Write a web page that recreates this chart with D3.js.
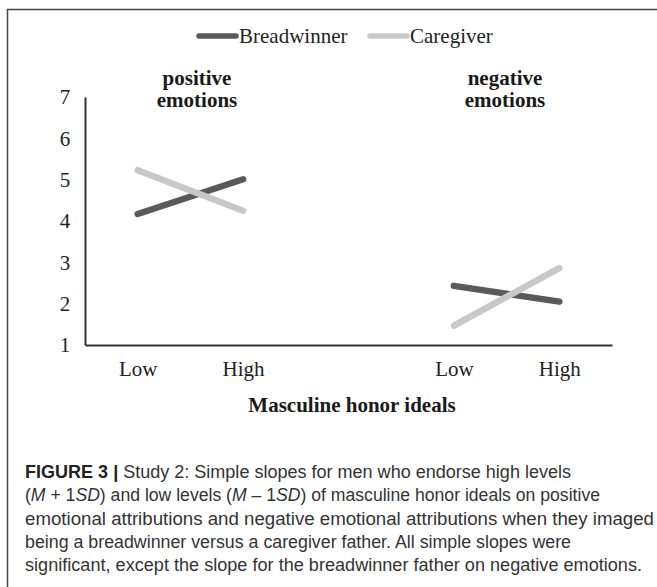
<!DOCTYPE html>
<html><head><meta charset="utf-8">
<script src="https://cdn.jsdelivr.net/npm/d3@7"></script>
<style>body{margin:0;background:#fff}svg{display:block}</style>
</head><body>
<script>
const categories = ["Low", "High", "", "Low ", "High "];
const tickLabels = ["Low", "High", "", "Low", "High"];
const yTicks = [1, 2, 3, 4, 5, 6, 7];
const seriesNames = ["Breadwinner", "Caregiver"];
const breadwinnerPositive = [4.17, 5.01];
const caregiverPositive = [5.23, 4.25];
const breadwinnerNegative = [2.43, 2.05];
const caregiverNegative = [1.47, 2.86];
const panelTitles = [["positive", "emotions"], ["negative", "emotions"]];
const xTitle = "Masculine honor ideals";
const captionLines = [
  [["FIGURE 3 |", "b"], [" Study 2: Simple slopes for men who endorse high levels", ""]],
  [["(", ""], ["M", "i"], [" + 1", ""], ["SD", "i"], [") and low levels (", ""], ["M", "i"], [" \u2013 1", ""], ["SD", "i"], [") of masculine honor ideals on positive", ""]],
  [["emotional attributions and negative emotional attributions when they imaged", ""]],
  [["being a breadwinner versus a caregiver father. All simple slopes were", ""]],
  [["significant, except the slope for the breadwinner father on negative emotions.", ""]]
];

const W = 657, H = 587;
const colors = {Breadwinner: "#5a5a5a", Caregiver: "#c8c8c8"};
const svg = d3.select("body").append("svg").attr("width", W).attr("height", H);

// frame
svg.append("path").attr("d", "M7.5,587 V9.5 H657").attr("fill", "none").attr("stroke", "#444").attr("stroke-width", 1.5);

const x = d3.scalePoint().domain(categories).range([85, 612]).padding(0.5);
const y = d3.scaleLinear().domain([1, 7]).range([345, 97]);
const serif = "'Liberation Serif','Times New Roman',serif";

// axes
const yAxis = svg.append("g").attr("transform", "translate(85,0)")
  .call(d3.axisLeft(y).tickValues(yTicks).tickSize(0).tickPadding(16).tickFormat(d3.format("d")));
yAxis.select(".domain").attr("stroke", "#333").attr("stroke-width", 2);
yAxis.selectAll("text").attr("font-family", serif).attr("font-size", 21).attr("fill", "#222").attr("text-anchor", "middle").attr("dx", "-4");

const xAxis = svg.append("g").attr("transform", "translate(0,345)")
  .call(d3.axisBottom(x).tickSize(0).tickPadding(16).tickFormat((d, i) => tickLabels[i]));
xAxis.select(".domain").attr("stroke", "#333").attr("stroke-width", 2);
xAxis.selectAll("text").attr("font-family", serif).attr("font-size", 21).attr("fill", "#222");

// lines
const line = d3.line().x(d => x(d[0])).y(d => y(d[1]));
const series = [
  {name: "Breadwinner", pts: [[categories[0], breadwinnerPositive[0]], [categories[1], breadwinnerPositive[1]]]},
  {name: "Caregiver", pts: [[categories[0], caregiverPositive[0]], [categories[1], caregiverPositive[1]]]},
  {name: "Breadwinner", pts: [[categories[3], breadwinnerNegative[0]], [categories[4], breadwinnerNegative[1]]]},
  {name: "Caregiver", pts: [[categories[3], caregiverNegative[0]], [categories[4], caregiverNegative[1]]]}
];
svg.append("g").selectAll("path").data(series).join("path")
  .attr("d", d => line(d.pts)).attr("fill", "none")
  .attr("stroke", d => colors[d.name]).attr("stroke-width", 6.5).attr("stroke-linecap", "round");

// panel titles
const titleX = [197, 505];
panelTitles.forEach((t, i) => {
  t.forEach((s, j) => {
    svg.append("text").attr("x", titleX[i]).attr("y", 85 + j * 22).attr("text-anchor", "middle")
      .attr("font-family", serif).attr("font-size", 21).attr("font-weight", "bold").attr("fill", "#1a1a1a").text(s);
  });
});

// x title
svg.append("text").attr("x", 352).attr("y", 412).attr("text-anchor", "middle")
  .attr("font-family", serif).attr("font-size", 21).attr("font-weight", "bold").attr("fill", "#1a1a1a").text(xTitle);

// legend
const legX = [199, 370];
seriesNames.forEach((n, i) => {
  svg.append("line").attr("x1", legX[i]).attr("x2", legX[i] + 37).attr("y1", 36).attr("y2", 36)
    .attr("stroke", colors[n]).attr("stroke-width", 5.5).attr("stroke-linecap", "round");
  svg.append("text").attr("x", legX[i] + 40).attr("y", 43).attr("font-family", serif).attr("font-size", 21)
    .attr("fill", "#222").text(n);
});

// caption
const capBase = [478, 501, 524.5, 548, 571];
const capEnd = [571, 600, 654, 571, 642];
captionLines.forEach((ln, i) => {
  const t = svg.append("text").attr("x", 25).attr("y", capBase[i])
    .attr("font-family", "'Liberation Sans Narrow','Liberation Sans',Arial,sans-serif").attr("font-size", 17.5)
    .attr("fill", "#333").attr("textLength", capEnd[i] - 25).attr("lengthAdjust", "spacingAndGlyphs");
  ln.forEach(([s, st]) => {
    const sp = t.append("tspan").text(s);
    if (st === "b") sp.attr("font-weight", "bold").attr("fill", "#222");
    if (st === "i") sp.attr("font-style", "italic");
  });
});
</script>
</body></html>
